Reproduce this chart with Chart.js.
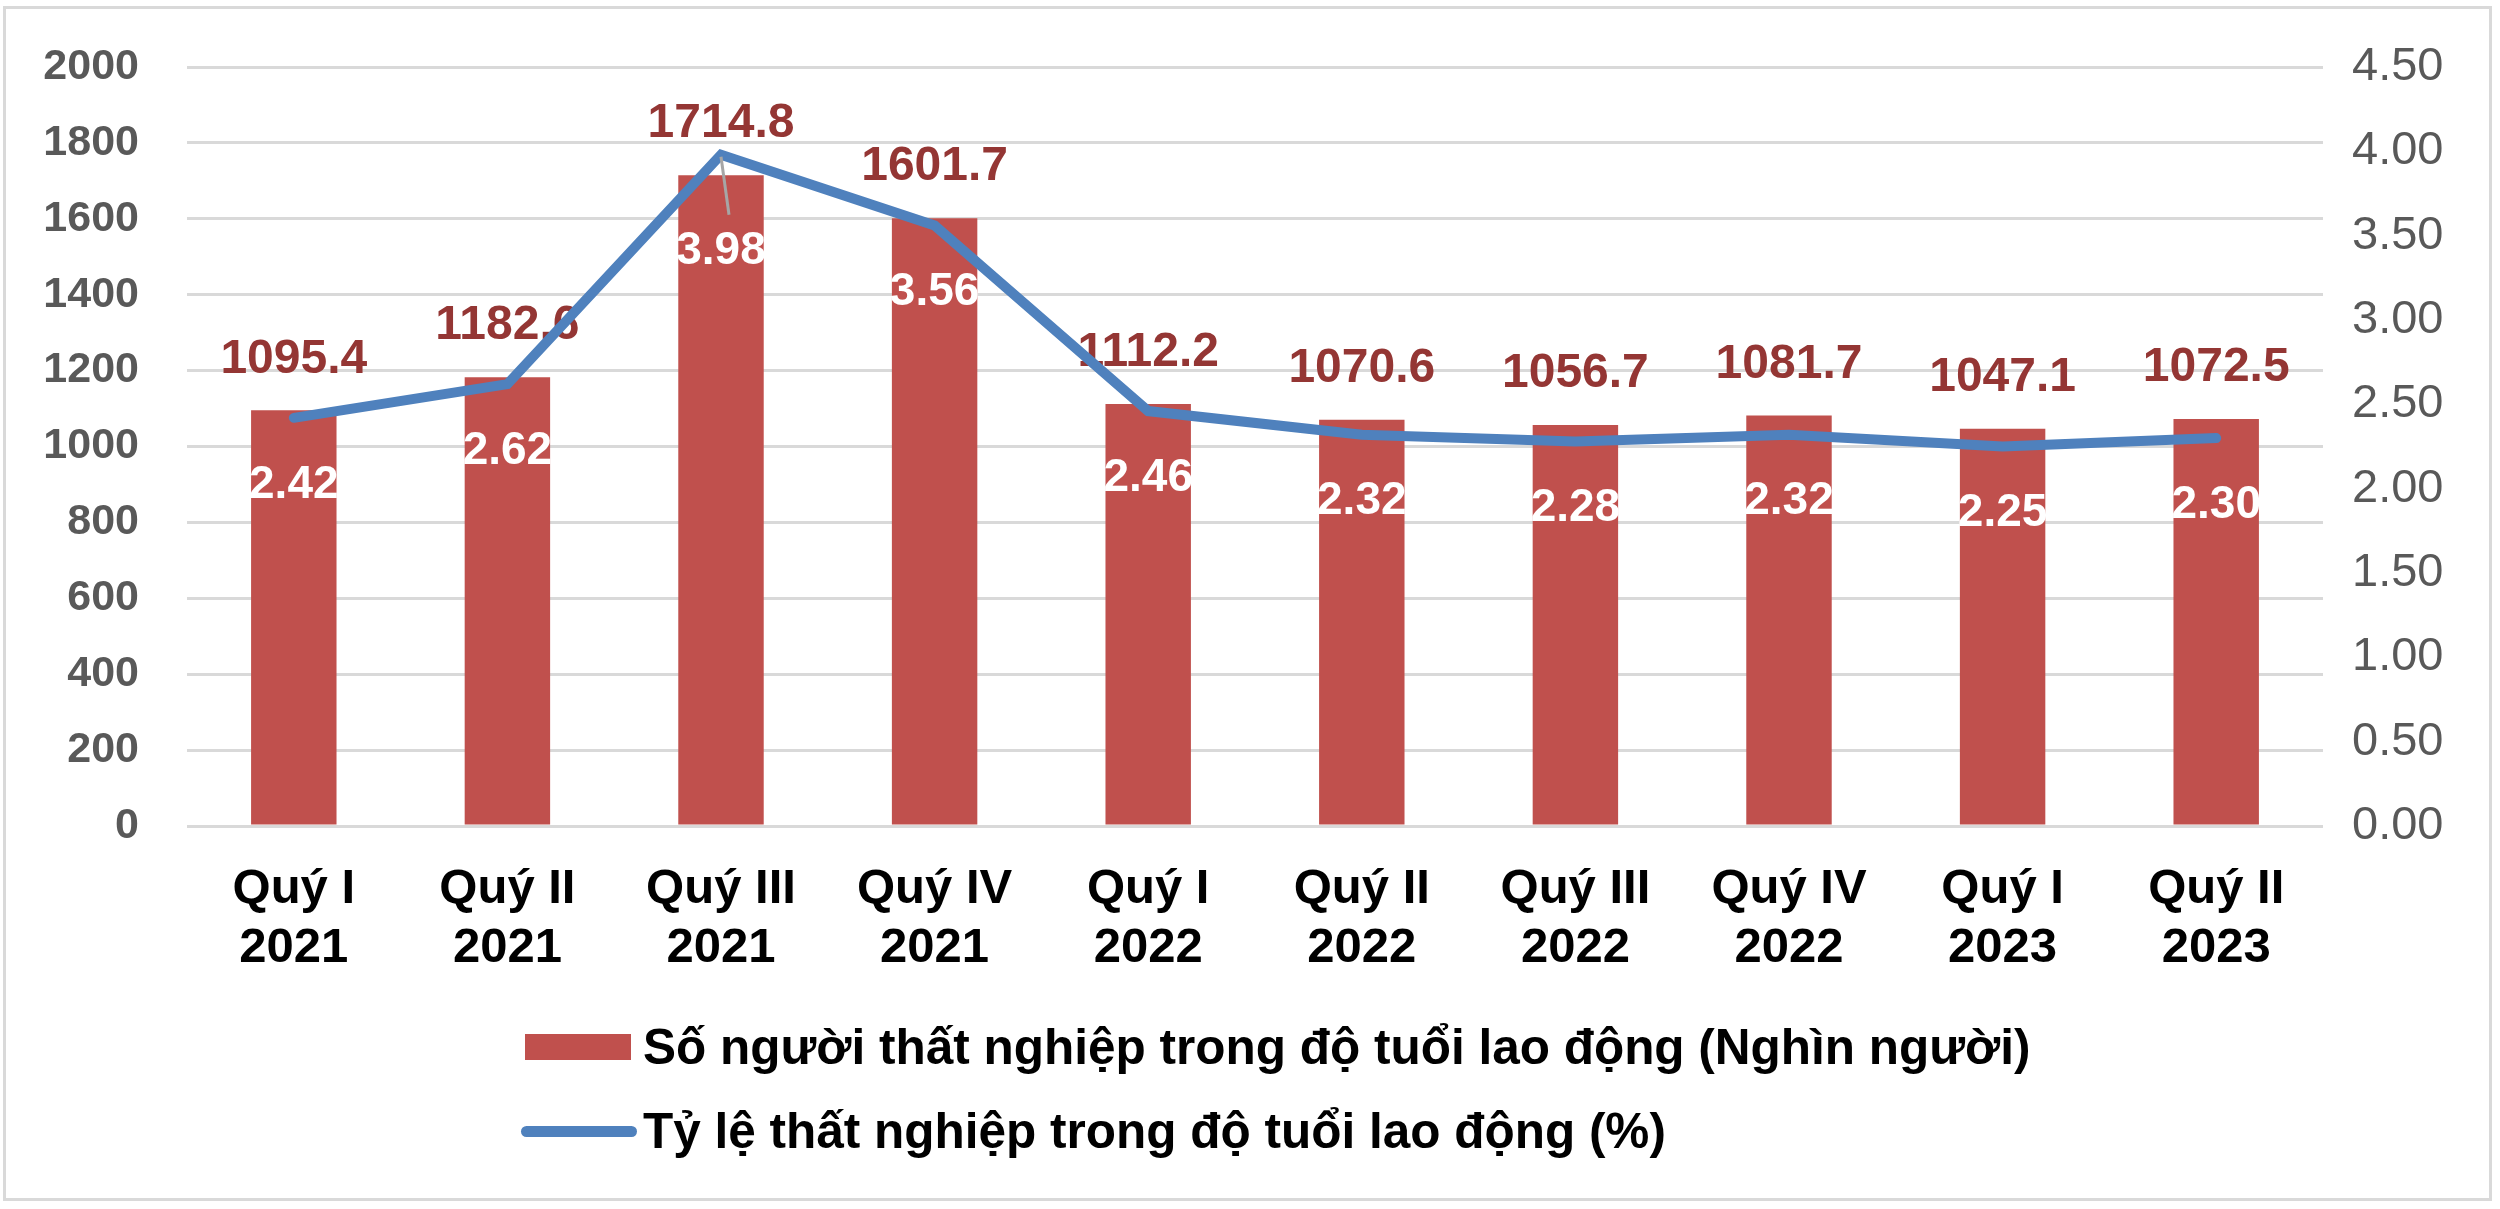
<!DOCTYPE html>
<html lang="vi">
<head>
<meta charset="utf-8">
<title>Thất nghiệp trong độ tuổi lao động</title>
<script src="https://cdn.jsdelivr.net/npm/chart.js@4.4.1/dist/chart.umd.min.js"></script>
<style>
    html, body { margin: 0; padding: 0; background: #fff; }
    #wrap { position: relative; width: 2500px; height: 1209px; font-family: "Liberation Sans", Arial, sans-serif; }
    #frame { position: absolute; left: 3px; top: 6px; width: 2489px; height: 1195px; border: 3px solid #d9d9d9; box-sizing: border-box; }
    #chart { position: absolute; left: 0; top: 0; }
    .legend-row { position: absolute; left: 0; height: 60px; width: 2000px; }
    .legend-row .swatch { position: absolute; }
    .legend-row .text { position: absolute; left: 643px; top: 0; line-height: 60px; font-size: 49.5px; font-weight: bold; color: #000; white-space: nowrap; }
</style>
</head>
<body>
<div id="wrap">
    <div id="frame"></div>
    <canvas id="chart" width="2500" height="1209"></canvas>
    <div id="legend"></div>
</div>
<script>
// Data
const quarters = ['Quý I', 'Quý II', 'Quý III', 'Quý IV', 'Quý I', 'Quý II', 'Quý III', 'Quý IV', 'Quý I', 'Quý II'];
const years = ['2021', '2021', '2021', '2021', '2022', '2022', '2022', '2022', '2023', '2023'];
const unemployed = [1095.4, 1182.6, 1714.8, 1601.7, 1112.2, 1070.6, 1056.7, 1081.7, 1047.1, 1072.5];
const unemploymentRate = [2.42, 2.62, 3.98, 3.56, 2.46, 2.32, 2.28, 2.32, 2.25, 2.30];

const barLabel = 'Số người thất nghiệp trong độ tuổi lao động (Nghìn người)';
const lineLabel = 'Tỷ lệ thất nghiệp trong độ tuổi lao động (%)';

const FONT = '"Liberation Sans", Arial, sans-serif';
const BAR_COLOR = '#C0504D';
const LINE_COLOR = '#4F81BD';

// Draws the value labels (Excel style data labels)
const valueLabels = {
    id: 'valueLabels',
    afterDatasetDraw(chart, args, opts) {
        if (args.index !== 0) return;
        const ctx = chart.ctx;
        ctx.save();
        ctx.font = 'bold 48px ' + FONT;
        ctx.fillStyle = '#943634';
        ctx.textAlign = 'center';
        ctx.textBaseline = 'middle';
        args.meta.data.forEach((bar, i) => {
            ctx.fillText(unemployed[i].toFixed(1), bar.x, bar.y - 51);
        });
        ctx.restore();
    },
    afterDatasetsDraw(chart, args, opts) {
        const ctx = chart.ctx;
        const meta = chart.getDatasetMeta(1);
        ctx.save();
        meta.data.forEach((pt, i) => {
            let drop = opts.drop;
            // the label that was dragged away gets a leader line
            if (i === opts.leaderIndex) {
                drop = opts.leaderDrop;
                ctx.strokeStyle = '#A6A6A6';
                ctx.lineWidth = 3;
                ctx.beginPath();
                ctx.moveTo(pt.x, pt.y + 2);
                ctx.lineTo(pt.x + 8, pt.y + 60);
                ctx.stroke();
            }
            ctx.font = 'bold 46px ' + FONT;
            ctx.fillStyle = '#fff';
            ctx.textAlign = 'center';
            ctx.textBaseline = 'middle';
            ctx.fillText(unemploymentRate[i].toFixed(2), pt.x, pt.y + drop);
        });
        ctx.restore();
    }
};

// fixed axis width; drop the label overflow padding so layout.padding decides the top
function fixAxis(width) {
    return scale => {
        scale.width = width;
        scale.paddingTop = 0;
        scale.paddingBottom = 0;
    };
}

const ctx = document.getElementById('chart').getContext('2d');

const chart = new Chart(ctx, {
    type: 'bar',
    data: {
        labels: quarters.map((q, i) => [q, years[i]]),
        datasets: [
            {
                type: 'bar',
                label: barLabel,
                data: unemployed,
                backgroundColor: BAR_COLOR,
                barPercentage: 0.4,
                categoryPercentage: 1,
                yAxisID: 'y',
                order: 1
            },
            {
                type: 'line',
                label: lineLabel,
                data: unemploymentRate,
                borderColor: LINE_COLOR,
                borderWidth: 10,
                borderCapStyle: 'round',
                pointRadius: 0,
                tension: 0,
                fill: false,
                yAxisID: 'y1',
                order: 0
            }
        ]
    },
    options: {
        responsive: false,
        animation: false,
        layout: {
            padding: { top: 67, left: 0, right: 0, bottom: 233 }
        },
        plugins: {
            legend: { display: false },
            tooltip: { enabled: false },
            valueLabels: {
                drop: 67,
                leaderIndex: 2,
                leaderDrop: 97
            }
        },
        scales: {
            x: {
                grid: { display: false },
                border: { display: false },
                ticks: {
                    autoSkip: false,
                    maxRotation: 0,
                    padding: 26,
                    color: '#000',
                    font: { family: FONT, size: 49, weight: 'bold', lineHeight: 1.2 }
                },
                afterFit(scale) { scale.height = 150; }
            },
            y: {
                position: 'left',
                min: 0,
                max: 2000,
                ticks: {
                    stepSize: 200,
                    padding: 48,
                    color: '#595959',
                    font: { family: FONT, size: 43, weight: 'bold' },
                    callback: value => String(value)
                },
                grid: { color: '#d9d9d9', lineWidth: 3, drawTicks: false },
                border: { display: false },
                afterFit: fixAxis(187)
            },
            y1: {
                position: 'right',
                min: 0,
                max: 4.5,
                ticks: {
                    stepSize: 0.5,
                    padding: 29,
                    color: '#595959',
                    font: { family: FONT, size: 47 },
                    callback: value => value.toFixed(2)
                },
                grid: { drawOnChartArea: false, drawTicks: false },
                border: { display: false },
                afterFit: fixAxis(177)
            }
        }
    },
    plugins: [valueLabels]
});

// HTML legend, rows left aligned like the original
function buildLegend() {
    const legend = document.getElementById('legend');
    const rows = [
        { top: 1017, label: chart.data.datasets[0].label, swatch: 'left:525px;top:17px;width:106px;height:26px;background:' + BAR_COLOR },
        { top: 1101, label: chart.data.datasets[1].label, swatch: 'left:521px;top:25px;width:116px;height:11px;border-radius:6px;background:' + LINE_COLOR }
    ];
    rows.forEach(r => {
        const row = document.createElement('div');
        row.className = 'legend-row';
        row.style.top = r.top + 'px';
        const sw = document.createElement('span');
        sw.className = 'swatch';
        sw.style.cssText = r.swatch;
        const txt = document.createElement('span');
        txt.className = 'text';
        txt.textContent = r.label;
        row.appendChild(sw);
        row.appendChild(txt);
        legend.appendChild(row);
    });
}
buildLegend();
</script>
</body>
</html>
